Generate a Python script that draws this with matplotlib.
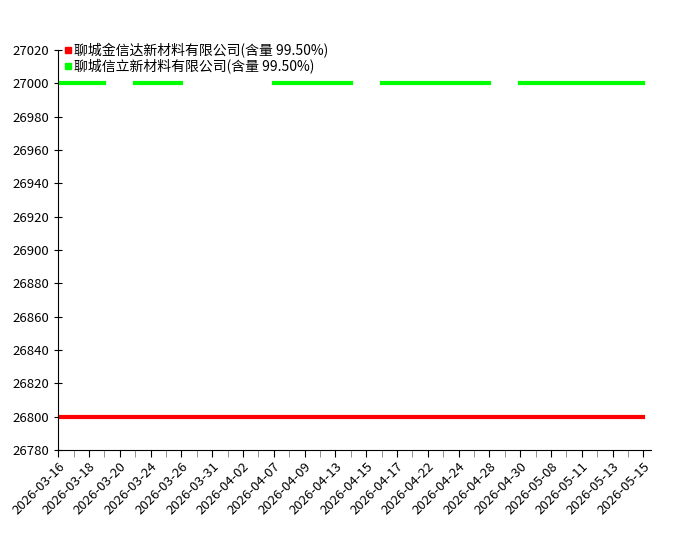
import matplotlib
matplotlib.use("Agg")
import matplotlib.pyplot as plt
import numpy as np
from matplotlib.lines import Line2D

plt.rcParams['font.family'] = ['Noto Sans CJK SC', 'DejaVu Sans']

dates = ['2026-03-16', '2026-03-17', '2026-03-18', '2026-03-19', '2026-03-20',
         '2026-03-23', '2026-03-24', '2026-03-25', '2026-03-26', '2026-03-27',
         '2026-03-31', '2026-04-01', '2026-04-02', '2026-04-03', '2026-04-07',
         '2026-04-08', '2026-04-09', '2026-04-10', '2026-04-13', '2026-04-14',
         '2026-04-15', '2026-04-16', '2026-04-17', '2026-04-20', '2026-04-22',
         '2026-04-23', '2026-04-24', '2026-04-27', '2026-04-28', '2026-04-29',
         '2026-04-30', '2026-05-07', '2026-05-08', '2026-05-09', '2026-05-11',
         '2026-05-12', '2026-05-13', '2026-05-14', '2026-05-15']

jinxinda = [26800] * 39

nan = np.nan
xinli = [27000, 27000, 27000, 27000, nan, 27000, 27000, 27000, 27000, nan,
         nan, nan, nan, nan, 27000, 27000, 27000, 27000, 27000, 27000,
         nan, 27000, 27000, 27000, 27000, 27000, 27000, 27000, 27000, nan,
         27000, 27000, 27000, 27000, 27000, 27000, 27000, 27000, 27000]

names = ['聊城金信达新材料有限公司(含量 99.50%)', '聊城信立新材料有限公司(含量 99.50%)']
colors = ['#ff0000', '#00ff00']

fig = plt.figure(figsize=(7, 5.5), dpi=100)
ax = fig.add_axes([0.083, 0.182, 0.847, 0.727])

x = np.arange(len(dates))
ax.plot(x, jinxinda, color=colors[0], lw=3)
ax.plot(x, xinli, color=colors[1], lw=3)

ax.set_xlim(0, len(dates) - 0.5)
ax.set_ylim(26780, 27020)
ax.set_yticks(np.arange(26780, 27021, 20))

ax.set_xticks(x[::2])
ax.set_xticklabels(dates[::2], rotation=45, ha='right', rotation_mode='anchor', fontsize=9.5)
ax.set_xticks(x[1::2], minor=True)
ax.tick_params(axis='x', which='major', direction='out', length=5, color='black', pad=2)
ax.tick_params(axis='x', which='minor', direction='out', length=5, color='gray')
ax.tick_params(axis='y', direction='inout', length=6, labelsize=9.5)

ax.spines['top'].set_visible(False)
ax.spines['right'].set_visible(False)

handles = [Line2D([], [], ls='none', marker='s', markersize=5, color=c) for c in colors]
ax.legend(handles, names, loc='upper left', frameon=False, fontsize=10,
          handletextpad=0.1, borderpad=0.0, labelspacing=0.05,
          bbox_to_anchor=(-0.002, 1.035), handlelength=0.6)

fig.savefig('out.png')
